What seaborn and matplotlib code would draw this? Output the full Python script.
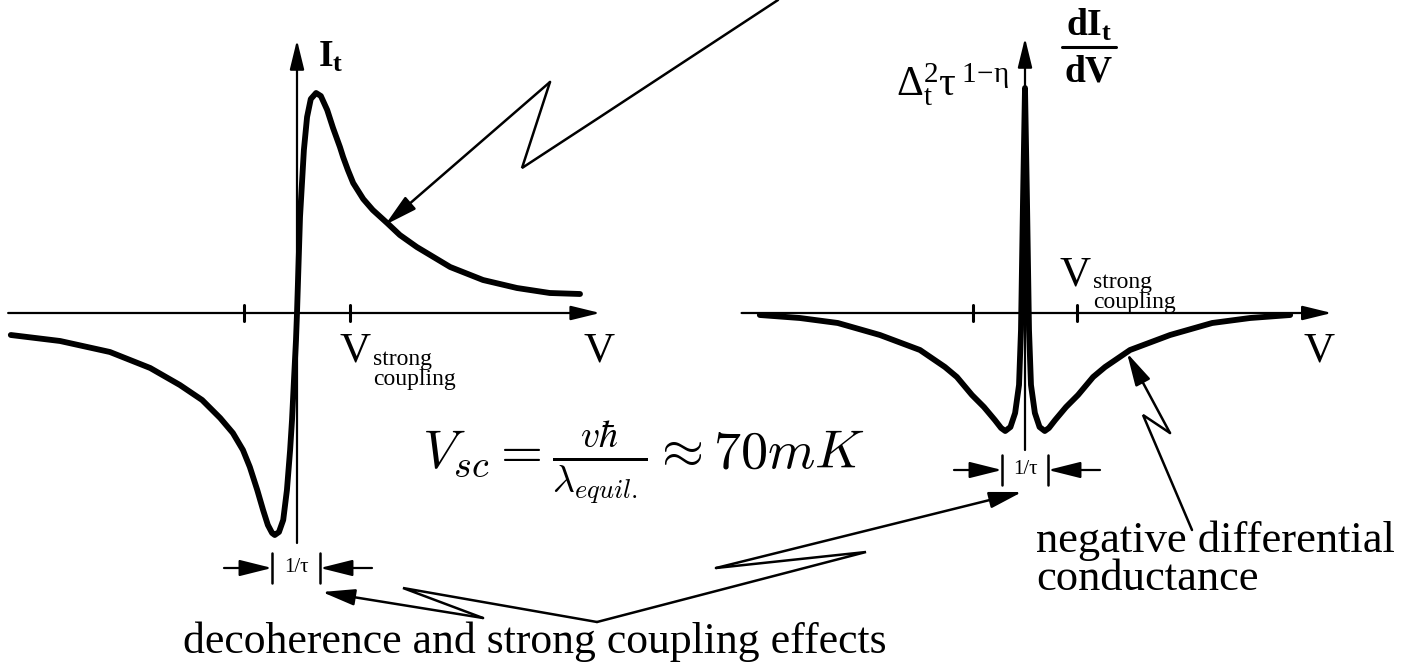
import numpy as np
import pandas as pd
import seaborn as sns
import matplotlib.pyplot as plt

sns.set_theme(style="white")
plt.rcParams["font.family"] = ["Liberation Serif", "DejaVu Serif"]
plt.rcParams["text.color"] = "black"
plt.rcParams["mathtext.fontset"] = "custom"
plt.rcParams["mathtext.rm"] = "Liberation Serif"
plt.rcParams["mathtext.it"] = "Liberation Serif:italic"
plt.rcParams["mathtext.bf"] = "Liberation Serif:bold"

# Tunnelling current I_t(V), in units of the strong-coupling voltage
current_v = [-5.40, -4.47, -3.53, -2.77, -2.21, -1.79, -1.45, -1.21, -1.02, -0.89,
             -0.75, -0.64, -0.55, -0.47, -0.42, -0.34, -0.26, -0.19, -0.13, -0.094,
             -0.057, -0.019, 0.0, 0.057, 0.13, 0.19, 0.26, 0.36, 0.45, 0.57,
             0.68, 0.81, 0.87, 0.96, 1.06, 1.25, 1.43, 1.70, 1.94, 2.26, 2.89,
             3.51, 4.15, 4.77, 5.34]
current_i = [-0.22, -0.28, -0.39, -0.55, -0.72, -0.87, -1.05, -1.20, -1.37, -1.54,
             -1.77, -1.97, -2.12, -2.20, -2.22, -2.19, -2.07, -1.77, -1.37, -1.07,
             -0.67, -0.27, 0.0, 0.96, 1.63, 1.96, 2.14, 2.20, 2.17, 2.03,
             1.85, 1.66, 1.56, 1.43, 1.30, 1.14, 1.03, 0.90, 0.78, 0.66, 0.46,
             0.33, 0.25, 0.20, 0.19]

# Differential conductance dI_t/dV
cond_v = [-5.10, -4.33, -3.60, -2.79, -2.02, -1.54, -1.31, -1.02, -0.79, -0.58,
          -0.46, -0.38, -0.28, -0.19, -0.115, -0.077, -0.038, 0.0,
          0.038, 0.077, 0.115, 0.19, 0.28, 0.38, 0.46, 0.58, 0.79, 1.02,
          1.31, 1.54, 2.02, 2.79, 3.60, 4.33, 5.10]
cond_g = [-0.02, -0.05, -0.10, -0.22, -0.37, -0.54, -0.64, -0.82, -0.94, -1.07,
          -1.15, -1.18, -1.14, -1.00, -0.72, -0.17, 1.13, 2.25,
          1.13, -0.17, -0.72, -1.00, -1.14, -1.18, -1.15, -1.07, -0.94, -0.82,
          -0.64, -0.54, -0.37, -0.22, -0.10, -0.05, -0.02]

tick_positions = [-1.0, 1.0]

W, H = 1415, 669
fig = plt.figure(figsize=(W / 100, H / 100), dpi=100)
fig.patch.set_facecolor("white")

# overlay in pixel units for labels and pointer arrows
ov = fig.add_axes([0, 0, 1, 1])
ov.set_xlim(0, W)
ov.set_ylim(H, 0)
ov.axis("off")


def panel(ox, oy, ux, uy, xlim, ylim):
    left, right = ox + xlim[0] * ux, ox + xlim[1] * ux
    top, bottom = oy - ylim[1] * uy, oy - ylim[0] * uy
    ax = fig.add_axes([left / W, 1 - bottom / H, (right - left) / W, (bottom - top) / H])
    ax.set_xlim(*xlim)
    ax.set_ylim(*ylim)
    ax.axis("off")
    return ax


def axis_arrow(ax, start, end):
    ax.annotate("", xy=end, xytext=start,
                arrowprops=dict(arrowstyle="-|>,head_length=0.9,head_width=0.22",
                                mutation_scale=20, lw=1.6, color="black",
                                shrinkA=0, shrinkB=0),
                annotation_clip=False)


def draw_frame(ax, x0, x1, y0, y1):
    axis_arrow(ax, (x0, 0), (x1, 0))
    axis_arrow(ax, (0, y0), (0, y1))
    for t in tick_positions:
        ax.plot([t, t], [-0.08, 0.08], color="black", lw=2.2, clip_on=False)


# left panel: I_t versus V
axl = panel(297, 313, 53, 100, (-5.6, 5.8), (-2.4, 2.8))
draw_frame(axl, -5.45, 5.72, -2.30, 2.73)
sns.lineplot(x=current_v, y=current_i, sort=False, estimator=None, ax=axl,
             color="black", lw=4.2, legend=False)
for line in axl.lines:
    line.set_clip_on(False)
    line.set_solid_joinstyle("round")

# right panel: dI_t/dV versus V
axr = panel(1025, 313, 52, 100, (-5.6, 6.0), (-1.6, 2.8))
draw_frame(axr, -5.45, 5.9, -1.37, 2.75)
sns.lineplot(x=cond_v, y=cond_g, sort=False, estimator=None, ax=axr,
             color="black", lw=4.2, legend=False)
for line in axr.lines:
    line.set_clip_on(False)


def polyline(pts, lw=1.8):
    xs, ys = zip(*pts)
    ov.plot(xs, ys, color="black", lw=lw, solid_joinstyle="miter")


def pointer(start, end, lw=1.8):
    ov.annotate("", xy=end, xytext=start,
                arrowprops=dict(arrowstyle="-|>,head_length=1.0,head_width=0.25",
                                mutation_scale=20, lw=lw, color="black",
                                shrinkA=0, shrinkB=0))


def width_marker(xc, yc, half):
    for s in (-1, 1):
        ov.plot([xc + s * half] * 2, [yc - 15, yc + 15], color="black", lw=1.8)
    pointer((xc - half - 48, yc), (xc - half, yc), lw=1.6)
    pointer((xc + half + 52, yc), (xc + half, yc), lw=1.6)
    ov.text(xc, yc, "1/τ", fontsize=15, ha="center", va="center")


width_marker(296, 568, 24)
width_marker(1025, 470, 23)

# zig-zag pointers
polyline([(778, 0), (600, 117), (522, 168), (550, 82)])
pointer((550, 82), (385, 225))
polyline([(597, 622), (403, 588), (483, 618)])
pointer((483, 618), (322, 592))
polyline([(597, 622), (866, 552), (716, 568)])
pointer((716, 568), (1022, 492))
polyline([(1192, 530), (1143, 415), (1170, 433)])
pointer((1170, 433), (1127, 353))

# axis labels
ov.text(318, 40, r"$\mathbf{I}_\mathbf{t}$", fontsize=27, ha="left", va="top")
ov.text(1089, 36, r"$\mathbf{dI}_\mathbf{t}$", fontsize=27, ha="center",
        va="baseline")
ov.plot([1062, 1116], [47, 47], color="black", lw=2.2)
ov.text(1089, 82, r"$\mathbf{dV}$", fontsize=27, ha="center", va="baseline")
ov.text(1010, 97, r"$\Delta_\mathrm{t}^2\mathrm{\tau}^{\;1\!-\!\mathrm{\eta}}$",
        fontsize=30, ha="right", va="baseline")

for xv, base in ((340, 362), (1060, 285)):
    ov.text(xv, base, "V", fontsize=31, ha="left", va="baseline")
    ov.text(xv + 33, base + 3, "strong", fontsize=17, ha="left", va="baseline")
    ov.text(xv + 33, base + 23, "coupling", fontsize=17, ha="left", va="baseline")

ov.text(583, 362, "V", fontsize=31, ha="left", va="baseline")
ov.text(1303, 362, "V", fontsize=31, ha="left", va="baseline")

ov.text(422, 468, r"$V_{sc} = \frac{v\hbar}{\lambda_{equil.}} \approx 70mK$",
        fontsize=39, ha="left", va="baseline", math_fontfamily="cm")

ov.text(183, 653, "decoherence and strong coupling effects", fontsize=31.5,
        ha="left", va="baseline")
ov.text(1036, 552, "negative differential", fontsize=32, ha="left", va="baseline")
ov.text(1036, 590, "conductance", fontsize=32, ha="left", va="baseline")

fig.savefig("out.png", dpi=100, facecolor="white")
